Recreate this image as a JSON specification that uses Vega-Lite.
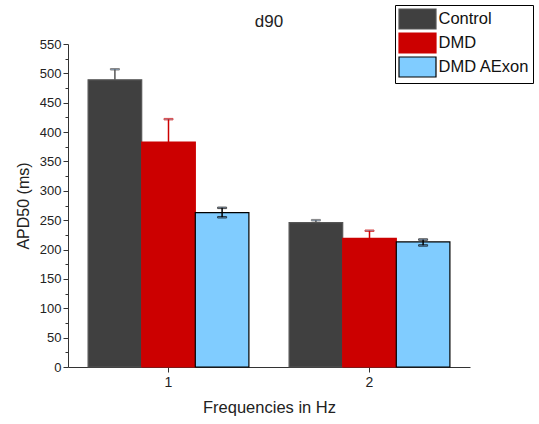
{
  "$schema": "https://vega.github.io/schema/vega-lite/v6.json",
  "autosize": {"type": "none"},
  "padding": {"left": 68, "top": 44, "right": 69, "bottom": 57},
  "width": 402,
  "height": 323,
  "background": "white",
  "title": {"text": "d90", "fontSize": 17, "font": "Liberation Sans", "fontWeight": "normal", "color": "#222", "offset": 0, "dy": 26, "anchor": "middle"},
  "config": {
    "view": {"stroke": null},
    "font": "Liberation Sans",
    "axis": {"labelFont": "Liberation Sans", "titleFont": "Liberation Sans", "labelColor": "#222", "titleColor": "#222", "domainColor": "#333", "tickColor": "#333", "titleFontWeight": "normal", "grid": false},
    "axisY": {"title": "APD50 (ms)", "titleFontSize": 16, "labelFontSize": 13, "labelOverlap": false, "labelPadding": 2, "titlePadding": 8}
  },
  "data": {"values": [
    {"freq": "1", "group": "Control", "value": 489, "lo": 489, "hi": 507},
    {"freq": "1", "group": "DMD", "value": 383, "lo": 383, "hi": 422},
    {"freq": "1", "group": "DMD AExon", "value": 263, "lo": 255, "hi": 271},
    {"freq": "2", "group": "Control", "value": 246, "lo": 246, "hi": 250},
    {"freq": "2", "group": "DMD", "value": 219, "lo": 219, "hi": 232},
    {"freq": "2", "group": "DMD AExon", "value": 213, "lo": 207, "hi": 217}
  ]},
  "encoding": {
    "x": {"field": "freq", "type": "nominal", "scale": {"paddingInner": 0.2, "paddingOuter": 0.1},
      "axis": {"title": "Frequencies in Hz", "labelAngle": 0, "labelFontSize": 14, "titleFontSize": 16.5, "tickSize": 5, "labelPadding": 3, "titlePadding": 10}},
    "xOffset": {"field": "group", "type": "nominal", "scale": {"paddingInner": 0, "paddingOuter": 0}}
  },
  "layer": [
    {
      "mark": {"type": "bar", "strokeWidth": 1.2},
      "encoding": {
        "y": {"field": "value", "type": "quantitative", "scale": {"domain": [0, 550], "nice": false},
          "axis": {"title": "APD50 (ms)",
            "values": [0,25,50,75,100,125,150,175,200,225,250,275,300,325,350,375,400,425,450,475,500,525,550],
            "labelExpr": "datum.value % 50 === 0 ? datum.label : ''",
            "tickSize": {"expr": "datum.value % 50 === 0 ? 5 : 3"}}},
        "fill": {"field": "group", "type": "nominal",
          "scale": {"domain": ["Control", "DMD", "DMD AExon"], "range": ["#404040", "#cc0000", "#80ccff"]},
          "legend": {"orient": "none", "legendX": 327, "legendY": -39, "title": null,
            "symbolType": "M-1.85,-1L1.85,-1L1.85,1L-1.85,1Z", "symbolSize": 400, "symbolStrokeWidth": 1.2, "symbolOffset": 8.5,
            "labelFontSize": 16.5, "labelFont": "Liberation Sans", "labelColor": "#111",
            "strokeColor": "#000", "fillColor": "white", "padding": 3, "rowPadding": -5, "labelOffset": 10}},
        "stroke": {"field": "group", "type": "nominal",
          "scale": {"domain": ["Control", "DMD", "DMD AExon"], "range": ["#555555", "#cc0000", "#000000"]}}
      }
    },
    {
      "mark": {"type": "rule", "strokeWidth": 1.5},
      "encoding": {
        "y": {"field": "lo", "type": "quantitative",
          "axis": {"title": "APD50 (ms)",
            "values": [0,25,50,75,100,125,150,175,200,225,250,275,300,325,350,375,400,425,450,475,500,525,550],
            "labelExpr": "datum.value % 50 === 0 ? datum.label : ''",
            "tickSize": {"expr": "datum.value % 50 === 0 ? 5 : 3"}}},
        "y2": {"field": "hi"},
        "stroke": {"field": "group", "type": "nominal"}
      }
    },
    {
      "mark": {"type": "tick", "thickness": 1.5, "size": 9},
      "encoding": {
        "y": {"field": "hi", "type": "quantitative",
          "axis": {"title": "APD50 (ms)",
            "values": [0,25,50,75,100,125,150,175,200,225,250,275,300,325,350,375,400,425,450,475,500,525,550],
            "labelExpr": "datum.value % 50 === 0 ? datum.label : ''",
            "tickSize": {"expr": "datum.value % 50 === 0 ? 5 : 3"}}},
        "stroke": {"field": "group", "type": "nominal"}
      }
    },
    {
      "transform": [{"filter": "datum.group === 'DMD AExon'"}],
      "mark": {"type": "tick", "thickness": 1.5, "size": 9},
      "encoding": {
        "y": {"field": "lo", "type": "quantitative",
          "axis": {"title": "APD50 (ms)",
            "values": [0,25,50,75,100,125,150,175,200,225,250,275,300,325,350,375,400,425,450,475,500,525,550],
            "labelExpr": "datum.value % 50 === 0 ? datum.label : ''",
            "tickSize": {"expr": "datum.value % 50 === 0 ? 5 : 3"}}},
        "stroke": {"field": "group", "type": "nominal"}
      }
    }
  ]
}
